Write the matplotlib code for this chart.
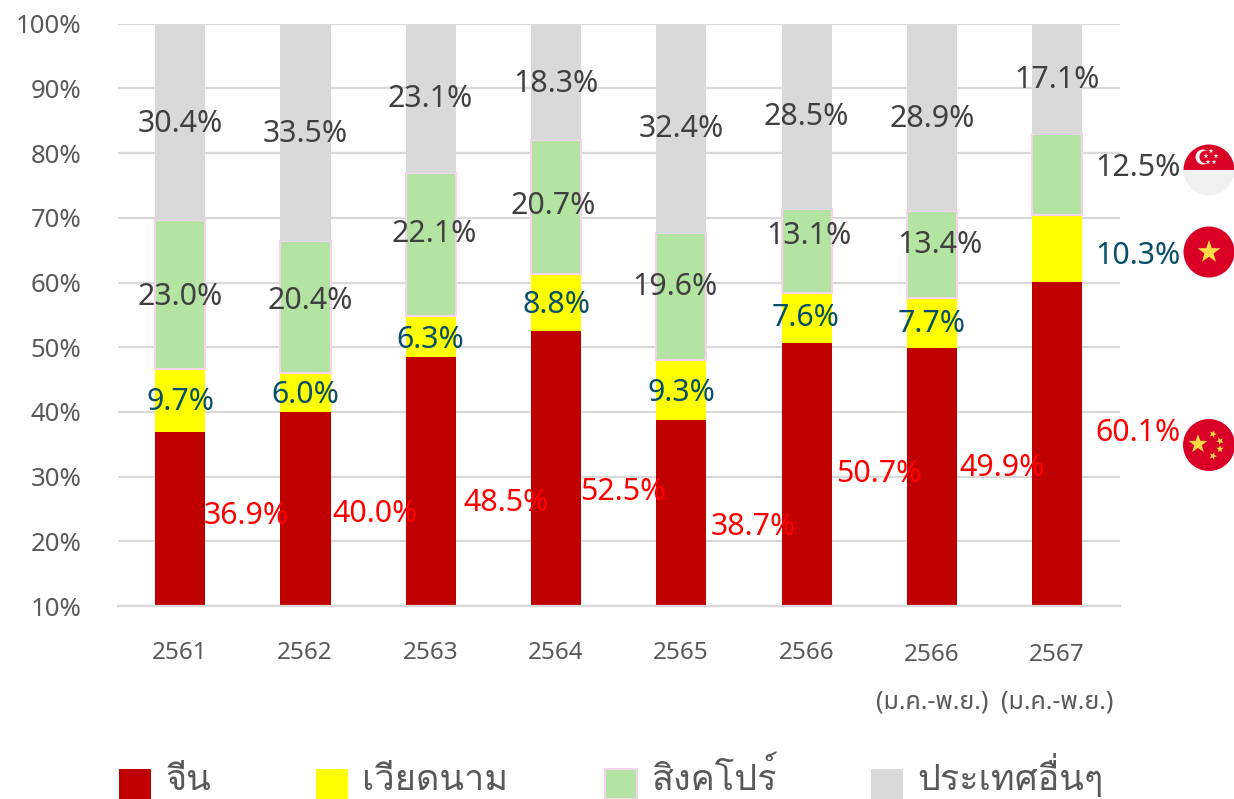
"""
Thai import shares by source country, stacked bars with flags
"""
import matplotlib
matplotlib.use('Agg')
import numpy as np
import matplotlib.pyplot as plt
from matplotlib.patches import Circle, Polygon, Rectangle, Wedge

plt.rcParams['font.family'] = ['Noto Sans Thai', 'Sarabun', 'Noto Sans', 'DejaVu Sans']

years = ['2561', '2562', '2563', '2564', '2565', '2566', '2566', '2567']
period = '(ม.ค.-พ.ย.)'
series_names = ['จีน', 'เวียดนาม', 'สิงคโปร์', 'ประเทศอื่นๆ']
china = [36.9, 40.0, 48.5, 52.5, 38.7, 50.7, 49.9, 60.1]
vietnam = [9.7, 6.0, 6.3, 8.8, 9.3, 7.6, 7.7, 10.3]
singapore = [23.0, 20.4, 22.1, 20.7, 19.6, 13.1, 13.4, 12.5]
others = [30.4, 33.5, 23.1, 18.3, 32.4, 28.5, 28.9, 17.1]
yticks = [10, 20, 30, 40, 50, 60, 70, 80, 90, 100]

# hand placed labels in the original, pixel centres (x, y)
china_xy = [(246, 514), (375, 512), (506, 501), (623, 490), (753, 525), (879, 472), (1002, 466), (1138, 431)]
vietnam_xy = [(180, 400), (305, 393), (430, 338), (556, 303), (681, 391), (806, 316), (932, 322), (1138, 254)]
singapore_xy = [(180, 295), (310, 299), (434, 232), (553, 204), (675, 285), (809, 234), (940, 243), (1138, 166)]
others_xy = [(180, 122), (305, 132), (430, 97), (556, 82), (681, 127), (806, 115), (932, 117), (1057, 78)]

W, H = 1234, 799
RED, YELLOW, GREEN, GREY = '#c00000', '#ffff00', '#b3e4a1', '#d9d9d9'
PINK = '#f6d3ee'
FLAG_RED, GOLD, WHITE = '#d80027', '#ffda44', '#f0f0f0'

fig = plt.figure(figsize=(W / 100, H / 100), dpi=100)

# plot area in pixels
ax = fig.add_axes([117.5 / W, 1 - 606 / H, (1120 - 117.5) / W, (606 - 23.7) / H])
x = np.arange(len(years))
ax.set_xlim(-0.5, len(years) - 0.5)
ax.set_ylim(10, 100)
ax.set_axisbelow(True)
ax.grid(axis='y', color='#d9d9d9', lw=1.6)
for s in ax.spines.values():
    s.set_visible(False)
ax.set_yticks(yticks, [f'{v}%' for v in yticks], fontsize=18.5, color='#595959')
ax.set_xticks([])
ax.tick_params(axis='y', length=0, pad=26)
ax.spines['bottom'].set_visible(True)
ax.spines['bottom'].set_color('#d9d9d9')
ax.spines['bottom'].set_linewidth(1.6)

bottom = np.zeros(len(years))
for vals, col, edge, lw in [(china, RED, 'none', 0), (vietnam, YELLOW, 'none', 0),
                            (singapore, GREEN, PINK, 1.5), (others, GREY, 'none', 0)]:
    ax.bar(x, vals, 0.4, bottom=bottom, color=col, edgecolor=edge, linewidth=lw)
    bottom += np.array(vals)

# overlay in image pixels for the labels, flags and legend
ov = fig.add_axes([0, 0, 1, 1], facecolor='none')
ov.set_xlim(0, W)
ov.set_ylim(H, 0)
ov.axis('off')

LABEL_SIZE = 21.8
for vals, xy, col in [(china, china_xy, '#ff0000'), (vietnam, vietnam_xy, '#074f69'),
                      (singapore, singapore_xy, '#404040'), (others, others_xy, '#404040')]:
    for v, (px, py) in zip(vals, xy):
        ov.text(px, py + 2, f'{v:.1f}%', color=col, fontsize=LABEL_SIZE, ha='center', va='center')

# category labels
tick_px = [180, 305, 431, 556, 681, 807, 932, 1057]
tick_py = [653, 653, 653, 653, 653, 653, 655, 655]
for lab, px, py in zip(years, tick_px, tick_py):
    ov.text(px, py, lab, color='#595959', fontsize=17.5, ha='center', va='center')
for px in [932, 1057]:
    ov.text(px, 702, period, color='#595959', fontsize=18, ha='center', va='center')

# legend, Loma keeps the tone mark clear of the upper vowel
legend_x = [119, 316, 605, 871]
legend_text_x = [166, 362, 652, 917]
legend_cols = [(RED, 'none'), (YELLOW, 'none'), (GREEN, PINK), (GREY, 'none')]
for name, bx, tx, (col, edge) in zip(series_names, legend_x, legend_text_x, legend_cols):
    ov.add_patch(Rectangle((bx, 769), 32, 30, facecolor=col, edgecolor=edge, lw=1.5, clip_on=False))
    ov.text(tx, 790, name, color='#595959', fontsize=26, ha='left', va='baseline',
            family=['Loma', 'Noto Sans Thai', 'Sarabun', 'DejaVu Sans'])


def star(cx, cy, r, rot=0.0, col=GOLD):
    ang = np.radians(-90 + rot + np.arange(10) * 36)
    rad = np.where(np.arange(10) % 2 == 0, r, r * 0.4)
    return Polygon(np.c_[cx + rad * np.cos(ang), cy + rad * np.sin(ang)], closed=True,
                   facecolor=col, edgecolor='none')


# Singapore flag
ov.add_patch(Wedge((1209, 170), 25.5, 0, 180, facecolor=WHITE, edgecolor='none'))
ov.add_patch(Wedge((1209, 170), 25.5, 180, 360, facecolor=FLAG_RED, edgecolor='none'))
ov.add_patch(Circle((1203, 157), 7.5, facecolor=WHITE, edgecolor='none'))
ov.add_patch(Circle((1206, 157), 6.5, facecolor=FLAG_RED, edgecolor='none'))
for sx, sy in [(1211, 151), (1206, 156), (1216, 156), (1208, 162), (1214, 162)]:
    ov.add_patch(star(sx, sy, 2.6, col=WHITE))

# Vietnam flag
ov.add_patch(Circle((1209, 252), 25.5, facecolor=FLAG_RED, edgecolor='none'))
ov.add_patch(star(1209, 252, 12))

# China flag
ov.add_patch(Circle((1209, 445), 26, facecolor=FLAG_RED, edgecolor='none'))
ov.add_patch(star(1198, 444, 10))
for sx, sy, rot in [(1213, 434, 20), (1220, 441, 45), (1220, 449, 0), (1213, 456, 20)]:
    ov.add_patch(star(sx, sy, 4, rot))

fig.savefig('out.png', dpi=100)
